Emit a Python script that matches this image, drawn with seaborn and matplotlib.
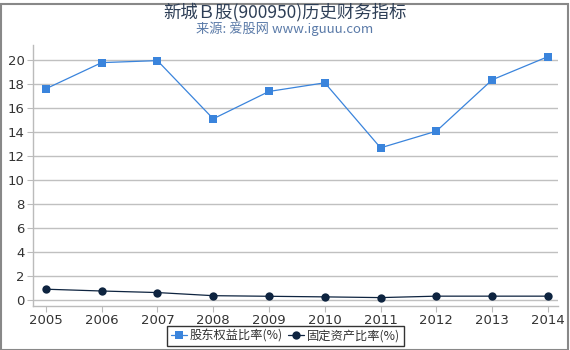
import matplotlib
matplotlib.use("Agg")
import matplotlib.pyplot as plt
import seaborn as sns
import pandas as pd
from matplotlib.patches import Rectangle

years = [2005, 2006, 2007, 2008, 2009, 2010, 2011, 2012, 2013, 2014]
equity_ratio = [17.6, 19.78, 19.95, 15.1, 17.38, 18.1, 12.68, 14.07, 18.35, 20.28]
fixed_asset_ratio = [0.9, 0.75, 0.62, 0.36, 0.31, 0.26, 0.2, 0.32, 0.32, 0.32]
series_names = ["股东权益比率(%)", "固定资产比率(%)"]
title = "新城Ｂ股(900950)历史财务指标"
subtitle = "来源: 爱股网 www.iguuu.com"

sns.set_theme(style="white")
plt.rcParams['font.family'] = ['DejaVu Sans', 'Noto Sans CJK SC']

df = pd.DataFrame({
    "year": years * 2,
    "value": equity_ratio + fixed_asset_ratio,
    "series": [series_names[0]] * len(years) + [series_names[1]] * len(years),
})

fig = plt.figure(figsize=(5.7, 3.5), dpi=100)
ax = fig.add_axes([33/570, 1 - 306/350, (558-33)/570, (306-45)/350])

colors = {series_names[0]: "#3a84dc", series_names[1]: "#0e2440"}
markers = {series_names[0]: "s", series_names[1]: "o"}
sns.lineplot(data=df, x="year", y="value", hue="series", style="series",
             palette=colors, markers=markers, dashes=False, markersize=6,
             linewidth=0.9, markeredgewidth=0, ax=ax)

ax.set_xlim(2004.77, 2014.18)
ax.set_ylim(-0.5, 21.25)
ax.set_xticks(years)
ax.set_xticklabels([str(y) for y in years])
ax.set_yticks(range(0, 21, 2))
ax.yaxis.grid(True, color="#c0c0c0", linewidth=1)
ax.xaxis.grid(False)
ax.set_xlabel("")
ax.set_ylabel("")
for s in ["top", "right"]:
    ax.spines[s].set_visible(False)
for s in ["left", "bottom"]:
    ax.spines[s].set_color("#bbbbbb")
    ax.spines[s].set_linewidth(1)
ax.tick_params(axis="both", labelsize=9.5, colors="#333333", length=4, width=0.8, pad=2)
ax.tick_params(axis="x", bottom=True, color="#bbbbbb")
ax.tick_params(axis="y", left=True, color="#bbbbbb")
for lbl in ax.get_xticklabels() + ax.get_yticklabels():
    lbl.set_color("#333333")

leg = ax.legend(loc="center", bbox_to_anchor=(0.5 * (167 + 404) / 570, 1 - 336/350),
                bbox_transform=fig.transFigure, ncol=2,
                frameon=True, fancybox=False, handlelength=1.3,
                handletextpad=0.25, columnspacing=0.4, borderpad=0.3,
                prop={"family": ["Noto Sans CJK SC", "DejaVu Sans"], "size": 8.8})
leg.get_frame().set_edgecolor("black")
leg.get_frame().set_linewidth(1)
for t in leg.get_texts():
    t.set_color("#333333")

fig.text(0.5, 1 - 12/350, title, ha="center", va="center", fontsize=12.5, color="#2d3e56",
         family=["Noto Sans CJK SC", "DejaVu Sans"])
fig.text(0.5, 1 - 29/350, subtitle, ha="center", va="center", fontsize=9.5, color="#5a7aa8",
         family=["Noto Sans CJK SC", "DejaVu Sans"])

fig.patches.append(Rectangle((0.5/570, 0.5/350), 567/570, 346/350, transform=fig.transFigure,
                             fill=False, edgecolor="#888888", linewidth=1.5))

fig.savefig("out.png", dpi=100)
